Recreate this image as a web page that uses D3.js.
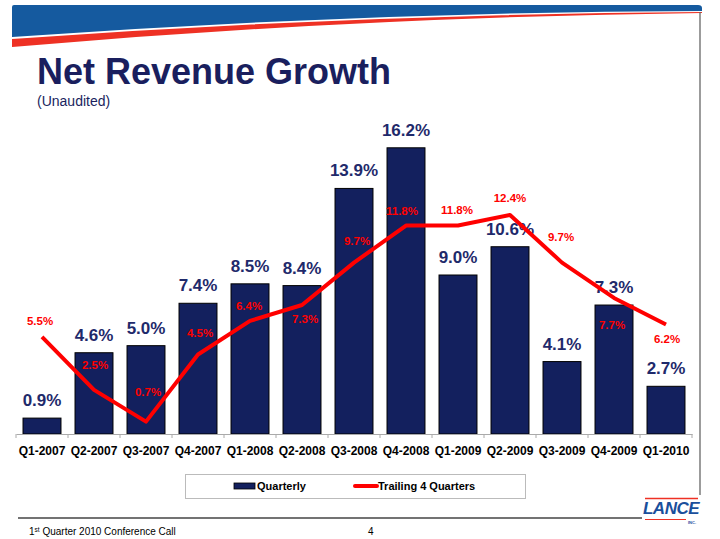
<!DOCTYPE html>
<html><head><meta charset="utf-8">
<script src="https://cdn.jsdelivr.net/npm/d3@7"></script>
<style>
html,body{margin:0;padding:0;background:#fff;}
svg{display:block;font-family:Arial,"Liberation Sans",sans-serif;}
</style></head>
<body>
<svg id="c" width="720" height="539"></svg>
<script>
// ---- data ----
const categories = ["Q1-2007","Q2-2007","Q3-2007","Q4-2007","Q1-2008","Q2-2008","Q3-2008","Q4-2008","Q1-2009","Q2-2009","Q3-2009","Q4-2009","Q1-2010"];
const quarterly = [0.9,4.6,5.0,7.4,8.5,8.4,13.9,16.2,9.0,10.6,4.1,7.3,2.7];
const trailing4 = [5.5,2.5,0.7,4.5,6.4,7.3,9.7,11.8,11.8,12.4,9.7,7.7,6.2];
const seriesNames = ["Quarterly","Trailing 4 Quarters"];

// ---- layout / style (not data) ----
const trailLabelDx = [-2,1,2,2,-1,3,3,-4,-1,0,-1,-2,1];
const trailLabelDy = [-16,-25,-30,-22,-15,14,-22,-15,-16,-17,-26,27,15];
const navy = "#13205e", red = "#ff0000", blue = "#155a9f", stripe = "#ee3124";

const svg = d3.select("#c");

// header swoosh
svg.append("path")
  .attr("d","M12,7 Q12,5 14,5 L698,5 Q702,5 702,8 L702,11 Q360,12 12,37 Z")
  .attr("fill",blue);
svg.append("path")
  .attr("d","M12,39 Q360,14 702,12 L702,13 Q360,17 12,47 Z")
  .attr("fill",stripe);
// right frame line
svg.append("line").attr("x1",700).attr("x2",700).attr("y1",12).attr("y2",495)
  .attr("stroke","#666").attr("stroke-width",1.3);

// title
svg.append("text").attr("x",37).attr("y",84).attr("font-size",36).attr("font-weight","bold")
  .attr("fill","#1a1f5e").text("Net Revenue Growth");
svg.append("text").attr("x",37).attr("y",106).attr("font-size",14)
  .attr("fill","#1a1f5e").text("(Unaudited)");

// scales
const x = d3.scaleBand().domain(categories).range([16,692]).paddingInner(0.27).paddingOuter(0.135);
const y = d3.scaleLinear().domain([0,18]).range([434,116]);
const cx = d => x(d) + x.bandwidth()/2;

// bars
svg.append("g").selectAll("rect").data(categories).join("rect")
  .attr("x",d=>x(d)).attr("width",x.bandwidth())
  .attr("y",(d,i)=>y(quarterly[i])).attr("height",(d,i)=>y(0)-y(quarterly[i]))
  .attr("fill",navy).attr("stroke","#000").attr("stroke-width",1);

// x axis
const xAxis = d3.axisBottom(x).tickSize(0).tickPadding(12);
const gx = svg.append("g").attr("transform",`translate(0,${y(0)})`).call(xAxis);
gx.select(".domain").attr("stroke","#aaa").attr("stroke-width",1);
gx.selectAll("text").attr("font-size",12).attr("font-weight","bold").attr("fill","#000")
  .attr("font-family",'Arial,"Liberation Sans",sans-serif');
// tick marks at band boundaries
const bounds = categories.map(d=>x(d)-x.step()*x.paddingInner()/2).concat([x(categories[12])+x.bandwidth()+x.step()*x.paddingInner()/2]);
svg.append("g").selectAll("line").data(bounds).join("line")
  .attr("x1",d=>d).attr("x2",d=>d).attr("y1",y(0)).attr("y2",y(0)+4)
  .attr("stroke","#aaa");

// quarterly labels
svg.append("g").selectAll("text").data(categories).join("text")
  .attr("x",d=>cx(d)).attr("y",(d,i)=>y(quarterly[i])-12)
  .attr("text-anchor","middle").attr("font-size",17).attr("font-weight","bold")
  .attr("fill","#1f2a6b").text((d,i)=>quarterly[i].toFixed(1)+"%");

// trailing line
const line = d3.line().x((d,i)=>cx(categories[i])).y(d=>y(d));
svg.append("path").datum(trailing4).attr("d",line)
  .attr("fill","none").attr("stroke",red).attr("stroke-width",4).attr("stroke-linejoin","round");

// trailing labels
svg.append("g").selectAll("text").data(trailing4).join("text")
  .attr("x",(d,i)=>cx(categories[i])+trailLabelDx[i])
  .attr("y",(d,i)=>y(d)+trailLabelDy[i]+4)
  .attr("text-anchor","middle").attr("font-size",11.5).attr("font-weight","bold")
  .attr("fill",red).text(d=>d.toFixed(1)+"%");

// legend
const lg = svg.append("g");
lg.append("rect").attr("x",185.5).attr("y",474.5).attr("width",340).attr("height",24)
  .attr("fill","#fff").attr("stroke","#bbb");
lg.append("rect").attr("x",234).attr("y",483).attr("width",21).attr("height",6)
  .attr("fill",navy).attr("stroke","#000").attr("stroke-width",0.8);
lg.append("text").attr("x",257).attr("y",490).attr("font-size",11).attr("font-weight","bold").text(seriesNames[0]);
lg.append("line").attr("x1",355).attr("x2",377).attr("y1",486).attr("y2",486)
  .attr("stroke",red).attr("stroke-width",4).attr("stroke-linecap","round");
lg.append("text").attr("x",378).attr("y",490).attr("font-size",11).attr("font-weight","bold").text(seriesNames[1]);

// footer
svg.append("line").attr("x1",18).attr("x2",642).attr("y1",518).attr("y2",518)
  .attr("stroke","#444").attr("stroke-width",1.3);
const ft = svg.append("text").attr("x",29).attr("y",535).attr("font-size",10).attr("fill","#000");
ft.append("tspan").text("1");
ft.append("tspan").attr("font-size",6.5).attr("dy",-3.5).text("st");
ft.append("tspan").attr("dy",3.5).text(" Quarter 2010 Conference Call");
svg.append("text").attr("x",368).attr("y",535).attr("font-size",10).text("4");

// logo
svg.append("line").attr("x1",645).attr("x2",698).attr("y1",498.5).attr("y2",498.5).attr("stroke",stripe).attr("stroke-width",1.5);
svg.append("text").attr("x",671).attr("y",514).attr("text-anchor","middle").attr("font-size",17)
  .attr("font-weight","bold").attr("font-style","italic").attr("fill","#1a4f9c").attr("letter-spacing",-0.5).text("LANCE");
svg.append("line").attr("x1",645).attr("x2",686).attr("y1",519.5).attr("y2",519.5).attr("stroke",stripe).attr("stroke-width",1.2);
svg.append("text").attr("x",688).attr("y",524).attr("font-size",4).attr("font-weight","bold").attr("fill","#1a4f9c").text("INC.");
</script>
</body></html>
